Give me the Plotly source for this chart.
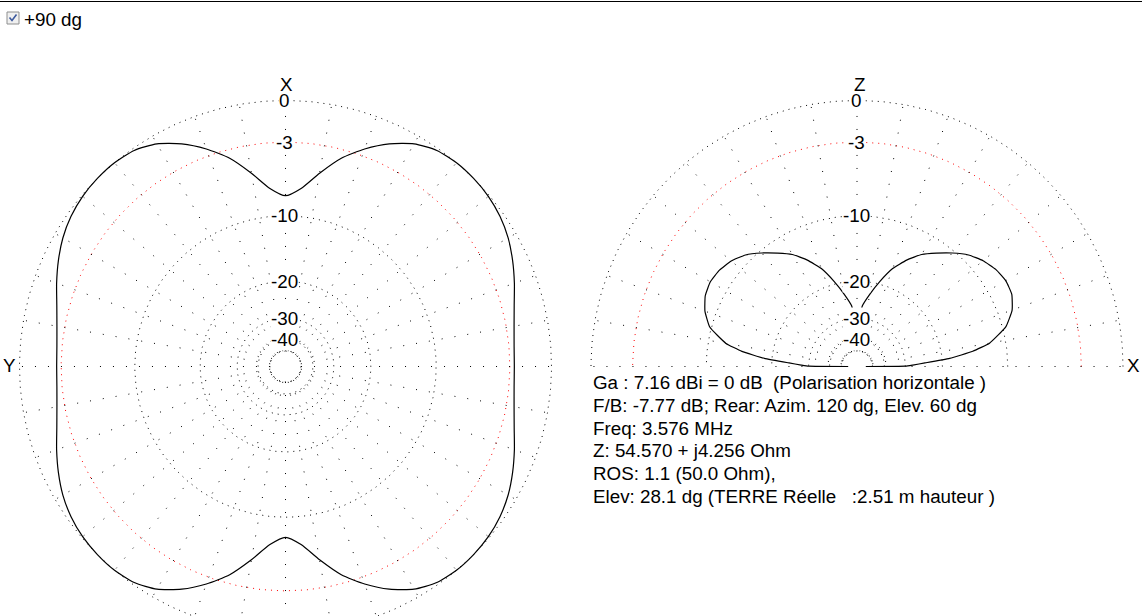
import numpy as np
import plotly.graph_objects as go

# ---------------- data ----------------
# Azimuth pattern (left plot): angle from X (top) towards Y (left), gain in dB
AZ_ANGLE_DEG = list(range(0, 360, 5))
AZ_GAIN_DB = [
    -7.8, -7.0, -5.35, -3.7, -2.45, -1.4, -0.6, -0.15, 0.0, 0.0, -0.08, -0.28,
    -0.6, -1.05, -1.55, -2.05, -2.4, -2.6,
    -2.65,
    -2.6, -2.4, -2.05, -1.55, -1.05, -0.6, -0.28, -0.08, 0.0, 0.0, -0.15, -0.6,
    -1.4, -2.45, -3.7, -5.35, -7.0,
    -7.8,
    -7.0, -5.35, -3.7, -2.45, -1.4, -0.6, -0.15, 0.0, 0.0, -0.08, -0.28, -0.6,
    -1.05, -1.55, -2.05, -2.4, -2.6, -2.65, -2.6, -2.4, -2.05, -1.55, -1.05,
    -0.6, -0.28, -0.08, 0.0, 0.0, -0.15, -0.6, -1.4, -2.45, -3.7, -5.35, -7.0,
]

# Elevation pattern (right plot): angle from +X (right) over Z (top) to -X, gain in dB
EL_ANGLE_DEG = [0, 0.5, 1.5, 3, 5, 7.5, 10, 15, 20, 25, 30, 35, 40, 45, 50, 55, 60,
                65, 70, 75, 80, 85, 90,
                95, 100, 105, 110, 115, 120, 125, 130, 135, 140, 145, 150, 155,
                160, 165, 170, 172.5, 175, 177, 178.5, 179.5, 180]
EL_GAIN_DB = [-60, -30, -27.5, -24, -18.5, -14.5, -12.0, -9.6, -8.4, -7.8, -7.7,
              -7.95, -8.45, -9.2, -10.3, -11.5, -12.7, -14.4, -16.5, -19.5, -22.7,
              -26.0, -35,
              -26.0, -22.7, -19.5, -16.5, -14.4, -12.7, -11.5, -10.3, -9.2, -8.5,
              -8.1, -7.95, -8.15, -8.75, -9.8, -12.2, -14.6, -18.5, -24, -27.5,
              -30, -60]

RING_DB = [0, -3, -10, -20, -30, -40, -50]
RING_LABELS = ["0", "-3", "-10", "-20", "-30", "-40"]
HALF_POWER_DB = -3
SPOKE_STEP_DEG = 10

INFO_LINES = [
    "Ga : 7.16 dBi = 0 dB  (Polarisation horizontale )",
    "F/B: -7.77 dB; Rear: Azim. 120 dg, Elev. 60 dg",
    "Freq: 3.576 MHz",
    "Z: 54.570 + j4.256 Ohm",
    "ROS: 1.1 (50.0 Ohm),",
    "Elev: 28.1 dg (TERRE Réelle   :2.51 m hauteur )",
]
CHECKBOX_LABEL = "+90 dg"

# ---------------- geometry / style ----------------
W, H = 1142, 616
CX_L, CX_R, CY = 285.5, 857.0, 366.5
R = 266.0
K = 0.0568
FONT = "Liberation Sans, Arial, sans-serif"
FS = 18.8
RING_DASH = "1px,5px"
SPOKE_DASH = "1px,12px"


def db_to_r(db):
    return R * np.exp(K * np.asarray(db, dtype=float))


def nb(s):
    return s.replace("  ", "\u00a0\u00a0")


def left_xy(r, a):
    a = np.radians(a)
    return -r * np.sin(a), r * np.cos(a)


def right_xy(r, a):
    a = np.radians(a)
    return r * np.cos(a), r * np.sin(a)


fig = go.Figure()


def add_grid(conv, amax, xa, ya):
    ang = np.arange(0, amax + 0.5, 1.0)
    bx, by = [], []
    for db in RING_DB:
        if db == HALF_POWER_DB:
            continue
        x, y = conv(db_to_r(db), ang)
        bx += list(x) + [None]
        by += list(y) + [None]
    fig.add_trace(go.Scatter(x=bx, y=by, mode="lines", xaxis=xa, yaxis=ya,
                             line=dict(color="black", width=1, dash=RING_DASH),
                             hoverinfo="skip", showlegend=False))
    x, y = conv(db_to_r(HALF_POWER_DB), ang)
    fig.add_trace(go.Scatter(x=x, y=y, mode="lines", xaxis=xa, yaxis=ya,
                             line=dict(color="red", width=1, dash=RING_DASH),
                             hoverinfo="skip", showlegend=False))
    sx, sy = [], []
    rin, rout = db_to_r(min(RING_DB)), db_to_r(max(RING_DB))
    last = amax if amax < 360 else amax - SPOKE_STEP_DEG
    for a in np.arange(0, last + 0.1, SPOKE_STEP_DEG):
        x0, y0 = conv(rin, a)
        x1, y1 = conv(rout, a)
        sx += [x0, x1, None]
        sy += [y0, y1, None]
    fig.add_trace(go.Scatter(x=sx, y=sy, mode="lines", xaxis=xa, yaxis=ya,
                             line=dict(color="black", width=1, dash=SPOKE_DASH),
                             hoverinfo="skip", showlegend=False))


add_grid(left_xy, 360, "x", "y")
add_grid(right_xy, 180, "x2", "y2")

# azimuth pattern
az_a = np.array(AZ_ANGLE_DEG + [AZ_ANGLE_DEG[0] + 360])
az_g = np.array(AZ_GAIN_DB + [AZ_GAIN_DB[0]])
x, y = left_xy(db_to_r(az_g), az_a)
fig.add_trace(go.Scatter(x=x, y=y, mode="lines", xaxis="x", yaxis="y",
                         line=dict(color="black", width=1.2, shape="spline", smoothing=0.6),
                         showlegend=False))

# elevation pattern
x, y = right_xy(db_to_r(EL_GAIN_DB), np.array(EL_ANGLE_DEG))
fig.add_trace(go.Scatter(x=x, y=y, mode="lines", xaxis="x2", yaxis="y2",
                         line=dict(color="black", width=1.2, shape="spline", smoothing=0.4),
                         showlegend=False))

annotations = []
for xr, yr, cx in (("x", "y", -1.5), ("x2", "y2", -1.0)):
    for db, lab in zip(RING_DB, RING_LABELS):
        annotations.append(dict(x=cx, y=float(db_to_r(db)), xref=xr, yref=yr, text=lab,
                                showarrow=False, font=dict(family=FONT, size=FS, color="black"),
                                bgcolor="white", borderpad=0, xanchor="center", yanchor="middle"))

axis_labels = [("X", 0.5, 282, "x", "y"), ("Y", -276.5, 1, "x", "y"),
               ("Z", 2, 282.5, "x2", "y2"), ("X", 276, 1, "x2", "y2")]
for t, xx, yy, xr, yr in axis_labels:
    annotations.append(dict(x=xx, y=yy, xref=xr, yref=yr, text=t, showarrow=False,
                            font=dict(family=FONT, size=FS, color="black"),
                            xanchor="center", yanchor="middle"))

for i, line in enumerate(INFO_LINES):
    ypx = 382 + i * 23
    annotations.append(dict(x=591 / W, y=1 - ypx / H, xref="paper", yref="paper",
                            text=nb(line), showarrow=False, xanchor="left", yanchor="middle",
                            font=dict(family=FONT, size=FS, color="black")))

annotations.append(dict(x=22 / W, y=1 - 19 / H, xref="paper", yref="paper",
                        text=CHECKBOX_LABEL, showarrow=False, xanchor="left", yanchor="middle",
                        font=dict(family=FONT, size=FS, color="black")))


def px(xp, yp):
    return xp / W, 1 - yp / H


shapes = [
    dict(type="line", xref="paper", yref="paper", x0=0, x1=1, y0=1 - 1.5 / H, y1=1 - 1.5 / H,
         line=dict(color="black", width=1)),
    dict(type="rect", xref="paper", yref="paper",
         x0=px(7, 12)[0], y0=px(7, 12)[1], x1=px(19, 24)[0], y1=px(19, 24)[1],
         line=dict(color="#8e8f8f", width=1), fillcolor="#f0f0f0"),
]
p = [px(9.5, 17.5), px(12, 20.5), px(16.5, 14.5)]
shapes.append(dict(type="path", xref="paper", yref="paper",
                   path="M {} {} L {} {} L {} {}".format(p[0][0], p[0][1], p[1][0], p[1][1], p[2][0], p[2][1]),
                   line=dict(color="#3d5a9e", width=1.6)))

ax_common = dict(visible=False, showgrid=False, zeroline=False, fixedrange=True)
fig.update_layout(
    width=W, height=H, margin=dict(l=0, r=0, t=0, b=0),
    paper_bgcolor="white", plot_bgcolor="white",
    xaxis=dict(domain=[0, 571 / W], range=[-CX_L, 571 - CX_L], **ax_common),
    yaxis=dict(domain=[0, 1], range=[CY - H, CY], anchor="x", **ax_common),
    xaxis2=dict(domain=[571 / W, 1], range=[571 - CX_R, W - CX_R], anchor="y2", **ax_common),
    yaxis2=dict(domain=[0, 1], range=[CY - H, CY], anchor="x2", **ax_common),
    annotations=annotations, shapes=shapes, showlegend=False,
)

fig.write_html("out.html", config={"displayModeBar": False},
               post_script="document.body.style.margin='0';document.body.style.overflow='hidden';")
